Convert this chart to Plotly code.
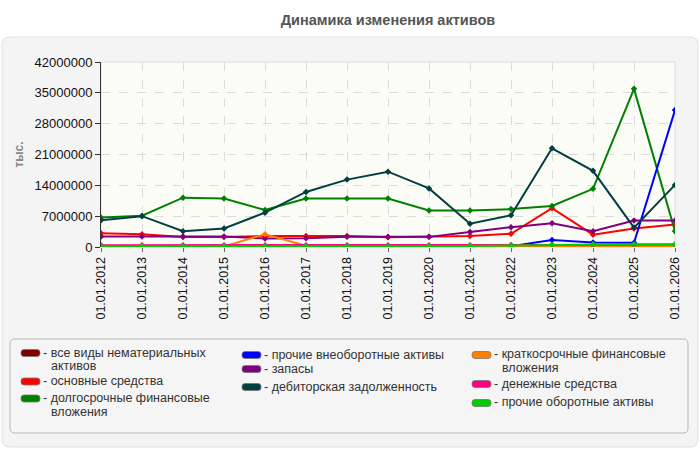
import plotly.graph_objects as go

dates = ["01.01.2012", "01.01.2013", "01.01.2014", "01.01.2015", "01.01.2016",
         "01.01.2017", "01.01.2018", "01.01.2019", "01.01.2020", "01.01.2021",
         "01.01.2022", "01.01.2023", "01.01.2024", "01.01.2025", "01.01.2026"]

intangible = [0, 0, 0, 0, 0, 0, 0, 0, 0, 0, 0, 0, 0, 0, 0]
fixed_assets = [3100000, 2900000, 2250000, 2250000, 2500000, 2500000, 2500000, 2200000,
                2300000, 2500000, 3000000, 8800000, 2800000, 4200000, 5100000]
long_invest = [6700000, 7100000, 11200000, 11000000, 8400000, 11000000, 11000000, 11000000,
               8300000, 8300000, 8600000, 9300000, 13200000, 35900000, 3600000]
other_noncurrent = [0, 0, 0, 0, 0, 0, 0, 0, 0, 0, 200000, 1600000, 1000000, 950000, 31100000]
inventories = [2400000, 2400000, 2400000, 2400000, 1950000, 2000000, 2300000, 2300000,
               2300000, 3400000, 4500000, 5400000, 3600000, 6000000, 6000000]
receivables = [6100000, 7000000, 3600000, 4200000, 7800000, 12500000, 15300000, 17100000,
               13300000, 5300000, 7200000, 22400000, 17300000, 4400000, 14100000]
short_invest = [0, 100000, 100000, 150000, 2900000, 300000, 100000, 100000,
                100000, 100000, 100000, 100000, 100000, 100000, 0]
cash = [400000, 400000, 400000, 400000, 400000, 400000, 400000, 400000,
        400000, 400000, 450000, 500000, 500000, 500000, 500000]
other_current = [150000, 150000, 150000, 150000, 150000, 150000, 150000, 150000,
                 150000, 250000, 350000, 500000, 600000, 650000, 650000]

y_ticks = [0, 7000000, 14000000, 21000000, 28000000, 35000000, 42000000]

series_names = [
    ["все виды нематериальных", "активов"],
    ["основные средства"],
    ["долгосрочные финансовые", "вложения"],
    ["прочие внеоборотные активы"],
    ["запасы"],
    ["дебиторская задолженность"],
    ["краткосрочные финансовые", "вложения"],
    ["денежные средства"],
    ["прочие оборотные активы"],
]
series_values = [intangible, fixed_assets, long_invest, other_noncurrent, inventories,
                 receivables, short_invest, cash, other_current]
series_colors = ["#800000", "#ff0000", "#008000", "#0000ff", "#800080",
                 "#004040", "#ff8000", "#ff0080", "#00cc00"]

REG = "Liberation Sans, Arial, sans-serif"

fig = go.Figure()
for names, vals, col in zip(series_names, series_values, series_colors):
    fig.add_trace(go.Scatter(
        x=dates, y=vals, mode="lines+markers", name=" ".join(names), showlegend=False,
        line=dict(color=col, width=2),
        marker=dict(symbol="diamond", size=5, color=col),
    ))

L, R, T, B = 101, 675, 62, 247
W = R - L
H = B - T

def px(xp):
    return (xp - L) / W

def py(yp):
    return (B - yp) / H

def rrect(x0, y0, x1, y1, r):
    X0, X1 = px(x0), px(x1)
    Y0, Y1 = py(y0), py(y1)
    rx, ry = r / W, r / H
    return (f"M{X0+rx},{Y0} L{X1-rx},{Y0} Q{X1},{Y0} {X1},{Y0-ry} "
            f"L{X1},{Y1+ry} Q{X1},{Y1} {X1-rx},{Y1} L{X0+rx},{Y1} "
            f"Q{X0},{Y1} {X0},{Y1+ry} L{X0},{Y0-ry} Q{X0},{Y0} {X0+rx},{Y0} Z")

shapes = [
    dict(type="path", xref="paper", yref="paper", layer="below",
         path=rrect(2, 37, 698, 447, 8), fillcolor="#f4f4f4",
         line=dict(color="#e0e0e0", width=1)),
    dict(type="rect", xref="paper", yref="paper", layer="below",
         x0=0, x1=1, y0=0, y1=1, fillcolor="#fcfcf7",
         line=dict(color="#dddddd", width=1)),
    dict(type="path", xref="paper", yref="paper", layer="below",
         path=rrect(10, 339, 688, 433, 5), fillcolor="#f5f5f5",
         line=dict(color="#b8b8b8", width=1)),
]

# legend layout (pixel positions): swatch left x, swatch centre y, text line centres
col_x = [21, 21, 21, 242, 242, 242, 472, 472, 472]
swatch_y = [353, 381.5, 398.5, 355, 369, 387, 355, 384, 403]
text_y = [[352.5, 366.5], [381], [398, 412], [355], [369], [387], [353.5, 367.5], [383.5], [402]]

annotations = []
for i, names in enumerate(series_names):
    x0 = col_x[i]
    yc = swatch_y[i]
    shapes.append(dict(
        type="path", xref="paper", yref="paper", layer="above",
        path=rrect(x0, yc - 3.5, x0 + 19, yc + 3.5, 3),
        fillcolor=series_colors[i], line=dict(color="#777", width=0.8),
    ))
    for j, line_text in enumerate(names):
        if j == 0:
            txt = "- " + line_text
            tx = x0 + 21
        else:
            txt = line_text
            tx = x0 + 29
        annotations.append(dict(
            text=txt, xref="paper", yref="paper", x=px(tx), y=py(text_y[i][j]),
            xanchor="left", yanchor="middle", showarrow=False, borderpad=0,
            font=dict(family=REG, size=12.5, color="#333"),
        ))

fig.update_layout(
    width=700, height=450,
    margin=dict(l=L, r=700 - R, t=T, b=450 - B, autoexpand=False),
    paper_bgcolor="white",
    plot_bgcolor="rgba(0,0,0,0)",
    showlegend=False,
    title=dict(text="<b>Динамика изменения активов</b>", x=0.5, xref="paper",
               xanchor="center", y=1 - 20 / 450, yanchor="middle",
               font=dict(family=REG, size=14.5, color="#555")),
    font=dict(family=REG, size=12, color="#111"),
    shapes=shapes,
    annotations=annotations,
    xaxis=dict(
        type="category", range=[0, 14], tickangle=-90,
        showgrid=True, gridcolor="#dcdcdc", griddash="dash", gridwidth=1,
        ticks="outside", ticklen=4, tickcolor="#666",
        showline=False, zeroline=False, automargin=False,
        tickfont=dict(family=REG, size=12.5, color="#111"),
    ),
    yaxis=dict(
        range=[0, 42000000], tickvals=y_ticks, tickformat="d",
        showgrid=True, gridcolor="#dcdcdc", griddash="dash", gridwidth=1,
        ticks="outside", ticklen=5, tickcolor="#333",
        showline=True, linecolor="#333", linewidth=1, zeroline=False,
        automargin=False,
        tickfont=dict(family=REG, size=13, color="#111"),
        title=dict(text="<b>тыс.</b>", standoff=8,
                   font=dict(family=REG, size=12, color="#888")),
    ),
)

fig.write_html("out.html")
